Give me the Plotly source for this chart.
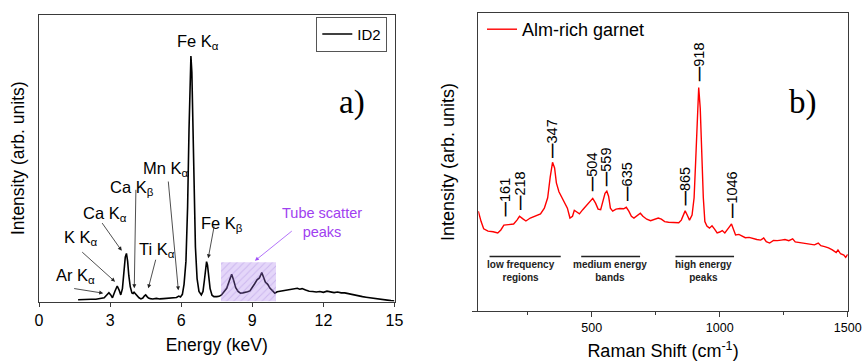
import plotly.graph_objects as go

# ---------------- Panel a) : XRF spectrum ----------------
energy_kev = [1.65, 1.8, 2.0, 2.2, 2.4, 2.6, 2.75, 2.85, 2.95, 3.02, 3.1, 3.2, 3.3, 3.38, 3.45,
              3.52, 3.58, 3.64, 3.69, 3.74, 3.79, 3.85, 3.92, 3.97, 4.01, 4.08, 4.15, 4.22, 4.3,
              4.38, 4.45, 4.5, 4.56, 4.62, 4.7, 4.8, 4.95, 5.1, 5.25, 5.4, 5.55, 5.7, 5.8, 5.9,
              5.97, 6.05, 6.12, 6.2, 6.27, 6.33, 6.37, 6.41, 6.45, 6.49, 6.54, 6.6, 6.67, 6.75,
              6.85, 6.92, 6.98, 7.03, 7.07, 7.11, 7.16, 7.22, 7.3, 7.38, 7.5, 7.6, 7.7, 7.8, 7.92,
              8.02, 8.13, 8.22, 8.3, 8.4, 8.5, 8.6, 8.7, 8.8, 8.9, 9.0, 9.1, 9.2, 9.3, 9.4, 9.47,
              9.55, 9.65, 9.75, 9.85, 9.95, 10.05, 10.2, 10.35, 10.5, 10.6, 10.75, 10.9, 11.0,
              11.1, 11.25, 11.4, 11.55, 11.7, 11.85, 12.0, 12.15, 12.3, 12.45, 12.6, 12.75, 12.9,
              13.05, 13.2, 13.35, 13.5, 13.65, 13.8, 13.95, 14.1, 14.25, 14.4, 14.55, 14.7, 14.85,
              15.0]
xrf_intensity = [0.006, 0.007, 0.007, 0.008, 0.008, 0.010, 0.013, 0.022, 0.031, 0.024, 0.013,
                 0.035, 0.054, 0.040, 0.023, 0.045, 0.100, 0.155, 0.168, 0.140, 0.090, 0.052,
                 0.030, 0.028, 0.032, 0.025, 0.020, 0.013, 0.009, 0.012, 0.020, 0.023, 0.017,
                 0.012, 0.010, 0.009, 0.011, 0.009, 0.010, 0.011, 0.010, 0.012, 0.014, 0.019,
                 0.016, 0.025, 0.060, 0.140, 0.330, 0.600, 0.780, 0.857, 0.800, 0.640, 0.400,
                 0.190, 0.080, 0.035, 0.023, 0.035, 0.075, 0.122, 0.139, 0.127, 0.085, 0.045,
                 0.022, 0.017, 0.017, 0.018, 0.023, 0.032, 0.046, 0.070, 0.095, 0.072, 0.048,
                 0.035, 0.029, 0.030, 0.031, 0.034, 0.037, 0.048, 0.062, 0.076, 0.082, 0.101,
                 0.082, 0.068, 0.060, 0.046, 0.038, 0.029, 0.034, 0.036, 0.038, 0.040, 0.041,
                 0.044, 0.046, 0.043, 0.045, 0.040, 0.036, 0.035, 0.033, 0.035, 0.032, 0.036,
                 0.033, 0.031, 0.033, 0.030, 0.030, 0.027, 0.025, 0.022, 0.020, 0.017, 0.015,
                 0.013, 0.011, 0.009, 0.007, 0.005, 0.004, 0.003, 0.002]
energy_ticks = [0, 3, 6, 9, 12, 15]

# tube scatter region (keV) and its height
tube_region = [7.68, 10.0]
tube_top = 0.137

# labels: text, label centre (E, I), arrow tail (E, I), arrow head (E, I)
line_labels = ["Ar K<sub>α</sub>", "K K<sub>α</sub>", "Ca K<sub>α</sub>", "Ca K<sub>β</sub>",
               "Ti K<sub>α</sub>", "Mn K<sub>α</sub>", "Fe K<sub>β</sub>"]
label_e = [1.52, 1.76, 2.78, 3.93, 4.97, 5.35, 7.71]
label_i = [0.088, 0.222, 0.307, 0.396, 0.181, 0.463, 0.269]
tail_e = [1.42, 1.76, 2.62, 4.09, 4.94, 5.45, 7.40]
tail_i = [0.046, 0.177, 0.279, 0.395, 0.151, 0.424, 0.267]
head_e = [2.71, 3.21, 3.49, 4.02, 4.61, 5.88, 7.14]
head_i = [0.029, 0.069, 0.177, 0.046, 0.046, 0.039, 0.151]

# ---------------- Panel b) : Raman spectrum ----------------
raman_shift = [57, 60, 68, 78, 95, 115, 133, 145, 157, 175, 195, 208, 218, 230, 243, 260, 280,
               300, 315, 328, 338, 347, 355, 362, 372, 385, 395, 405, 415, 425, 432, 440, 452,
               465, 480, 492, 504, 515, 525, 535, 545, 552, 559, 566, 573, 582, 595, 610, 625,
               635, 645, 655, 665, 680, 690, 700, 715, 730, 745, 760, 772, 785, 800, 820, 840,
               850, 858, 865, 873, 882, 892, 900, 906, 912, 918, 924, 930, 936, 942, 950, 960,
               970, 980, 990, 1000, 1010, 1020, 1030, 1040, 1046, 1054, 1062, 1075, 1085, 1100,
               1115, 1130, 1145, 1160, 1172, 1182, 1195, 1210, 1225, 1240, 1255, 1270, 1285,
               1295, 1310, 1330, 1350, 1370, 1385, 1395, 1410, 1425, 1440, 1455, 1462, 1472,
               1485, 1492, 1500]
raman_intensity = [0.335, 0.322, 0.300, 0.276, 0.268, 0.266, 0.262, 0.272, 0.288, 0.290, 0.292,
                   0.305, 0.318, 0.310, 0.302, 0.312, 0.320, 0.326, 0.345, 0.380, 0.450, 0.499,
                   0.480, 0.430, 0.400, 0.378, 0.365, 0.345, 0.312, 0.318, 0.338, 0.332, 0.326,
                   0.340, 0.356, 0.368, 0.378, 0.362, 0.342, 0.340, 0.370, 0.395, 0.402, 0.385,
                   0.345, 0.335, 0.342, 0.344, 0.343, 0.348, 0.335, 0.318, 0.312, 0.322, 0.328,
                   0.318, 0.308, 0.303, 0.308, 0.312, 0.308, 0.300, 0.298, 0.298, 0.296, 0.305,
                   0.322, 0.336, 0.322, 0.305, 0.322, 0.380, 0.500, 0.660, 0.750, 0.680, 0.520,
                   0.380, 0.300, 0.285, 0.278, 0.286, 0.275, 0.262, 0.265, 0.270, 0.262, 0.272,
                   0.285, 0.292, 0.275, 0.255, 0.257, 0.252, 0.246, 0.247, 0.243, 0.240, 0.238,
                   0.245, 0.233, 0.228, 0.237, 0.236, 0.238, 0.240, 0.236, 0.242, 0.232, 0.230,
                   0.228, 0.226, 0.222, 0.228, 0.219, 0.216, 0.212, 0.205, 0.196, 0.205, 0.192,
                   0.188, 0.180, 0.190]
raman_ticks = [500, 1000, 1500]

peak_pos = [161, 218, 347, 504, 559, 635, 865, 918, 1046]
peak_label_i = [0.312, 0.332, 0.507, 0.396, 0.413, 0.362, 0.346, 0.765, 0.305]

region_names = ["low frequency<br>regions", "medium energy<br>bands", "high energy<br>peaks"]
region_start = [101, 459, 827]
region_end = [379, 689, 1056]
region_centre = [224, 572, 937]
region_line_i = 0.183
region_text_i = 0.135

FONT = "Arial, 'Liberation Sans', sans-serif"
SERIF = "'Times New Roman', 'Liberation Serif', serif"
FRAME = "#3a3a3a"

fig = go.Figure()

fig.add_trace(go.Scatter(x=energy_kev, y=xrf_intensity, mode="lines", name="ID2",
                         line=dict(color="black", width=1.6), xaxis="x", yaxis="y",
                         legend="legend"))
# hatched tube-scatter box
fig.add_trace(go.Scatter(x=[tube_region[0], tube_region[1], tube_region[1], tube_region[0], tube_region[0]],
                         y=[0, 0, tube_top, tube_top, 0], mode="lines", fill="toself",
                         line=dict(width=0, color="rgba(0,0,0,0)"),
                         fillcolor="rgba(165,120,235,0.32)",
                         fillpattern=dict(shape="/", fgcolor="rgba(140,100,210,0.55)",
                                          bgcolor="rgba(165,120,235,0.30)", size=5, solidity=0.2),
                         showlegend=False, hoverinfo="skip", xaxis="x", yaxis="y"))

fig.add_trace(go.Scatter(x=raman_shift, y=raman_intensity, mode="lines", name="Alm-rich garnet",
                         line=dict(color="#ff0000", width=1.4), xaxis="x2", yaxis="y2",
                         legend="legend2"))

W, H = 862, 363
ann = []
# panel a labels
ann.append(dict(x=6.69, y=0.905, xref="x", yref="y", text="Fe K<sub>α</sub>", showarrow=False,
                font=dict(family=FONT, size=16.5, color="black")))
for t, le, li, te, ti, he, hi in zip(line_labels, label_e, label_i, tail_e, tail_i, head_e, head_i):
    ann.append(dict(x=le, y=li, xref="x", yref="y", text=t, showarrow=False,
                    font=dict(family=FONT, size=16.5, color="black")))
    ann.append(dict(x=he, y=hi, ax=te, ay=ti, xref="x", yref="y", axref="x", ayref="y", text="",
                    showarrow=True, arrowhead=2, arrowsize=1, arrowwidth=0.8, arrowcolor="#222"))
ann.append(dict(x=11.92, y=0.276, xref="x", yref="y", text="Tube scatter<br>peaks", showarrow=False,
                font=dict(family=FONT, size=14.5, color="#a040f0")))
ann.append(dict(x=9.11, y=0.142, ax=10.73, ay=0.25, xref="x", yref="y", axref="x", ayref="y", text="",
                showarrow=True, arrowhead=2, arrowsize=1, arrowwidth=0.8, arrowcolor="#a050f8"))
ann.append(dict(x=13.2, y=0.696, xref="x", yref="y", text="a)", showarrow=False,
                font=dict(family=SERIF, size=33, color="black")))

# panel b labels
for p, li in zip(peak_pos, peak_label_i):
    ann.append(dict(x=p, y=li, xref="x2", yref="y2", text="<b>—</b>" + str(p), textangle=-90,
                    showarrow=False, xanchor="center", yanchor="bottom",
                    font=dict(family=FONT, size=14.5, color="black")))
for name, c in zip(region_names, region_centre):
    ann.append(dict(x=c, y=region_text_i, xref="x2", yref="y2", text="<b>" + name + "</b>",
                    showarrow=False, font=dict(family=FONT, size=10, color="#222")))
ann.append(dict(x=1324, y=0.701, xref="x2", yref="y2", text="b)", showarrow=False,
                font=dict(family=SERIF, size=33, color="black")))

shapes = []
for s, e in zip(region_start, region_end):
    shapes.append(dict(type="line", xref="x2", yref="y2", x0=s, x1=e, y0=region_line_i,
                       y1=region_line_i, line=dict(color="#222", width=1.5)))

axis_common = dict(showgrid=False, zeroline=False, showline=True, linecolor=FRAME, linewidth=1.2,
                   mirror=True, automargin=False)

fig.update_layout(
    width=W, height=H,
    margin=dict(l=0, r=0, t=0, b=0, autoexpand=False),
    paper_bgcolor="white", plot_bgcolor="white",
    font=dict(family=FONT, color="black"),
    xaxis=dict(domain=[39 / W, 394.5 / W], range=[0, 15], tickvals=energy_ticks,
               ticks="outside", ticklen=4, tickwidth=1, tickcolor=FRAME,
               tickfont=dict(size=16, family=FONT),
               title=dict(text="Energy (keV)", font=dict(size=17.5, family=FONT), standoff=10),
               anchor="y", **axis_common),
    yaxis=dict(domain=[1 - 301.5 / H, 1 - 15 / H], range=[0, 1], showticklabels=False, ticks="",
               title=dict(text="Intensity (arb. units)", font=dict(size=17.5, family=FONT), standoff=8),
               anchor="x", **axis_common),
    xaxis2=dict(domain=[478.3 / W, 847.7 / W], range=[57, 1500], tickvals=raman_ticks,
                ticks="outside", ticklen=5, tickwidth=1, tickcolor=FRAME,
                minor=dict(dtick=250, tick0=0, ticks="outside", ticklen=3, tickcolor=FRAME),
                tickfont=dict(size=12.5, family=FONT),
                title=dict(text="Raman Shift (cm<sup>-1</sup>)", font=dict(size=18, family=FONT),
                           standoff=10),
                anchor="y2", **axis_common),
    yaxis2=dict(domain=[1 - 311 / H, 1 - 13 / H], range=[0, 1], showticklabels=False,
                tickvals=[0], ticks="outside", ticklen=5, tickcolor=FRAME,
                title=dict(text="Intensity (arb. units)", font=dict(size=18, family=FONT), standoff=12),
                anchor="x2", **axis_common),
    legend=dict(x=387.3 / W, y=1 - 16.7 / H, xanchor="right", yanchor="top",
                bordercolor="#555", borderwidth=1, bgcolor="white",
                font=dict(size=15, family=FONT), tracegroupgap=0),
    legend2=dict(x=482 / W, y=1 - 11 / H, xanchor="left", yanchor="top",
                 bgcolor="rgba(0,0,0,0)", borderwidth=0,
                 font=dict(size=18, family=FONT)),
    annotations=ann,
    shapes=shapes,
    showlegend=True,
)

fig.write_html("out.html", config={"displayModeBar": False},
               post_script="document.documentElement.style.margin='0';"
                           "document.body.style.margin='0';"
                           "document.body.style.overflow='hidden';")
